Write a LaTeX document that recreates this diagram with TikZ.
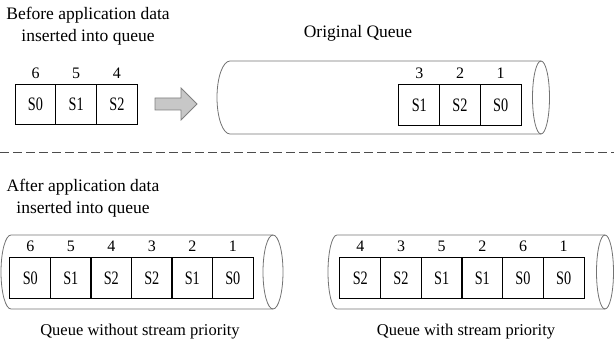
\documentclass[tikz,border=0pt]{standalone}
\usepackage{fontspec}
\setmainfont{Liberation Serif}
\newfontfamily\cellfont[FakeStretch=0.75]{Liberation Serif}
\tikzset{
  cell/.style={draw, rectangle, line width=1pt, minimum width=40.7pt,
    minimum height=40.7pt, inner sep=0pt, font=\cellfont\fontsize{19}{21}\selectfont},
  idx/.style={label={[font=\fontsize{16}{18}\selectfont, inner sep=0pt,
    label distance=5pt]above:#1}},
  tube/.style={draw=black!55, line width=0.8pt},
  caption/.style={align=center, font=\fontsize{17.5}{22}\selectfont},
  subcaption/.style={font=\fontsize{16.5}{20}\selectfont},
  blockarrow/.style={draw=black!50, fill=black!22, line width=0.8pt},
}
\begin{document}
\begin{tikzpicture}[x=1pt, y=1pt]
\useasboundingbox (0,0) rectangle (614,345);

% before inserting
\node[caption] (before) at (88,319) {Before application data\\inserted into queue};
\node[cell, idx=6] (b6) at (35.5,240.5) {S0};
\node[cell, idx=5] (b5) at (76.2,240.5) {S1};
\node[cell, idx=4] (b4) at (116.9,240.5) {S2};

\draw[blockarrow] (155,235) -- (181,235) -- (181,225) -- (197,241)
  -- (181,257) -- (181,247) -- (155,247) -- cycle;

% original queue
\node[caption] (orig) at (358,312) {Original Queue};
\draw[tube] (541,284) -- (230,284) arc[start angle=90, end angle=270, x radius=13, y radius=36.5] -- (541,211);
\draw[tube] (541,247.5) ellipse[x radius=8.5, y radius=36.5];
\node[cell, idx=3] (o3) at (419.3,240) {S1};
\node[cell, idx=2] (o2) at (460,240) {S2};
\node[cell, idx=1] (o1) at (500.7,240) {S0};

\draw[black!70, line width=0.9pt, dash pattern=on 8.5pt off 4.5pt] (0,193) -- (614,193);

% after inserting
\node[caption] (after) at (83,146.5) {After application data\\inserted into queue};

% queue without stream priority
\draw[tube] (273,110) -- (11,110) arc[start angle=90, end angle=270, x radius=10, y radius=37] -- (273,36);
\draw[tube] (273,73) ellipse[x radius=10, y radius=37];
\node[cell, idx=6] (p6) at (30.3,67) {S0};
\node[cell, idx=5] (p5) at (70.8,67) {S1};
\node[cell, idx=4] (p4) at (111.3,67) {S2};
\node[cell, idx=3] (p3) at (151.8,67) {S2};
\node[cell, idx=2] (p2) at (192.3,67) {S1};
\node[cell, idx=1] (p1) at (232.8,67) {S0};
\node[subcaption] (nopri) at (140,13) {Queue without stream priority};

% queue with stream priority
\draw[tube] (605,110) -- (337,110) arc[start angle=90, end angle=270, x radius=9, y radius=37] -- (605,36);
\draw[tube] (605,73) ellipse[x radius=8.5, y radius=37];
\node[cell, idx=4] (q4) at (360.3,67) {S2};
\node[cell, idx=3] (q3) at (401,67) {S2};
\node[cell, idx=5] (q5) at (441.7,67) {S1};
\node[cell, idx=2] (q2) at (482.3,67) {S1};
\node[cell, idx=6] (q6) at (523,67) {S0};
\node[cell, idx=1] (q1) at (563.7,67) {S0};
\node[subcaption] (pri) at (466,13) {Queue with stream priority};
\end{tikzpicture}
\end{document}
